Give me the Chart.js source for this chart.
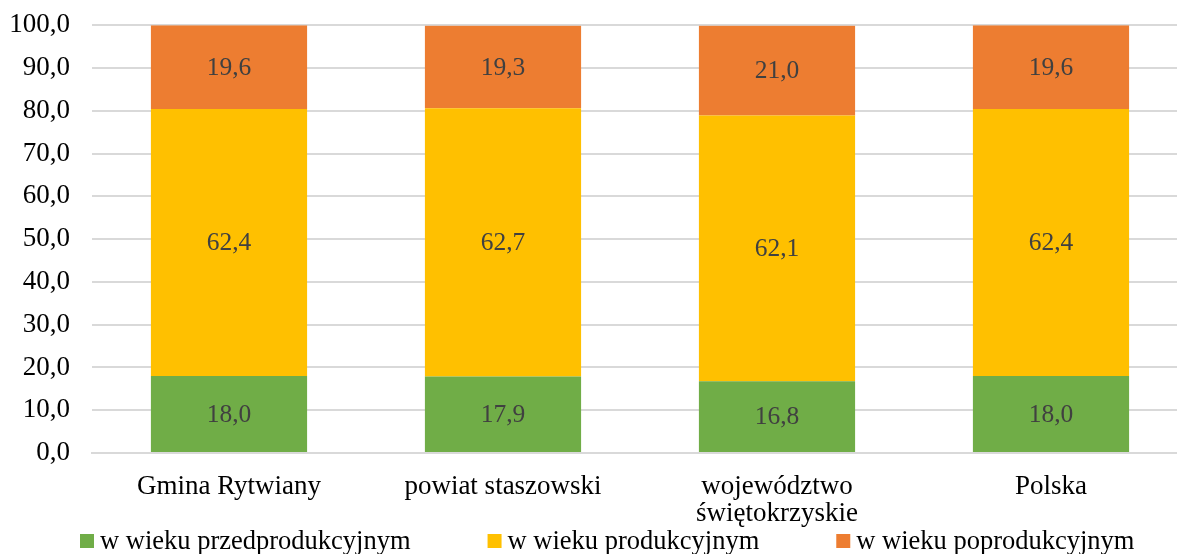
<!DOCTYPE html>
<html>
<head>
<meta charset="utf-8">
<script src="https://cdn.jsdelivr.net/npm/chart.js@4"></script>
<style>
  html, body { margin: 0; padding: 0; background: #fff; overflow: hidden; }
  #wrap { width: 1192px; height: 567px; margin-top: -13px; }
</style>
</head>
<body>
<div id="wrap"><canvas id="ageChart" width="1192" height="567"></canvas></div>
<script>
const categories = ["Gmina Rytwiany", "powiat staszowski", ["województwo", "świętokrzyskie"], "Polska"];
const preProductive = [18.0, 17.9, 16.8, 18.0];
const productive = [62.4, 62.7, 62.1, 62.4];
const postProductive = [19.6, 19.3, 21.0, 19.6];
const seriesNames = ["w wieku przedprodukcyjnym", "w wieku produkcyjnym", "w wieku poprodukcyjnym"];
const seriesColors = ["#70ad47", "#ffc000", "#ed7d31"];

const SERIF = "'Liberation Serif', 'Times New Roman', serif";
const fmt = (v) => v.toFixed(1).replace(".", ",");

// draws the value in the middle of every segment
const segmentLabels = {
  id: "segmentLabels",
  afterDatasetsDraw(chart) {
    const ctx = chart.ctx;
    ctx.save();
    ctx.font = "25.5px " + SERIF;
    ctx.fillStyle = "#404040";
    ctx.textAlign = "center";
    ctx.textBaseline = "middle";
    chart.data.datasets.forEach((ds, i) => {
      chart.getDatasetMeta(i).data.forEach((bar, j) => {
        const p = bar.getCenterPoint();
        ctx.fillText(fmt(ds.data[j]), p.x, p.y + 1);
      });
    });
    ctx.restore();
  },
};

// legend drawn by hand so the gap between items can be wide without eating height
const wideLegend = {
  id: "wideLegend",
  afterDraw(chart) {
    const ctx = chart.ctx;
    const box = 14, gapText = 6, gapItem = 77;
    const y = chart.height - 13;
    ctx.save();
    ctx.font = "26.5px " + SERIF;
    ctx.textBaseline = "middle";
    ctx.textAlign = "left";
    let x = 80;
    chart.data.datasets.forEach((ds) => {
      ctx.fillStyle = ds.backgroundColor;
      ctx.fillRect(x, y - box / 2, box, box);
      ctx.fillStyle = "#000";
      ctx.fillText(ds.label, x + box + gapText, y + 1);
      x += box + gapText + ctx.measureText(ds.label).width + gapItem;
    });
    ctx.restore();
  },
};

const ageChart = document.getElementById("ageChart");

new Chart(ageChart, {
  type: "bar",
  data: {
    labels: categories,
    datasets: [
      { label: seriesNames[0], data: preProductive, backgroundColor: seriesColors[0] },
      { label: seriesNames[1], data: productive, backgroundColor: seriesColors[1] },
      { label: seriesNames[2], data: postProductive, backgroundColor: seriesColors[2] },
    ],
  },
  options: {
    responsive: false,
    devicePixelRatio: 1,
    animation: false,
    barPercentage: 0.57,
    categoryPercentage: 1,
    layout: { padding: { left: 8, top: 0, right: 4, bottom: 15 } },
    plugins: {
      tooltip: { enabled: false },
      legend: { display: false },
    },
    scales: {
      x: {
        stacked: true,
        grid: { display: false },
        border: { display: true, color: "#d9d9d9", width: 2 },
        ticks: {
          color: "#000",
          font: { family: SERIF, size: 27, lineHeight: 1.0 },
          maxRotation: 0,
          padding: 12,
        },
      },
      y: {
        stacked: true,
        min: 0,
        max: 100,
        afterFit: (axis) => { axis.width = 84; },
        grid: { color: "#d9d9d9", lineWidth: 2, drawTicks: false },
        border: { display: false },
        ticks: {
          stepSize: 10,
          color: "#000",
          font: { family: SERIF, size: 27 },
          padding: 22,
          callback: (v) => fmt(v),
        },
      },
    },
  },
  plugins: [segmentLabels, wideLegend],
});
</script>
</body>
</html>
